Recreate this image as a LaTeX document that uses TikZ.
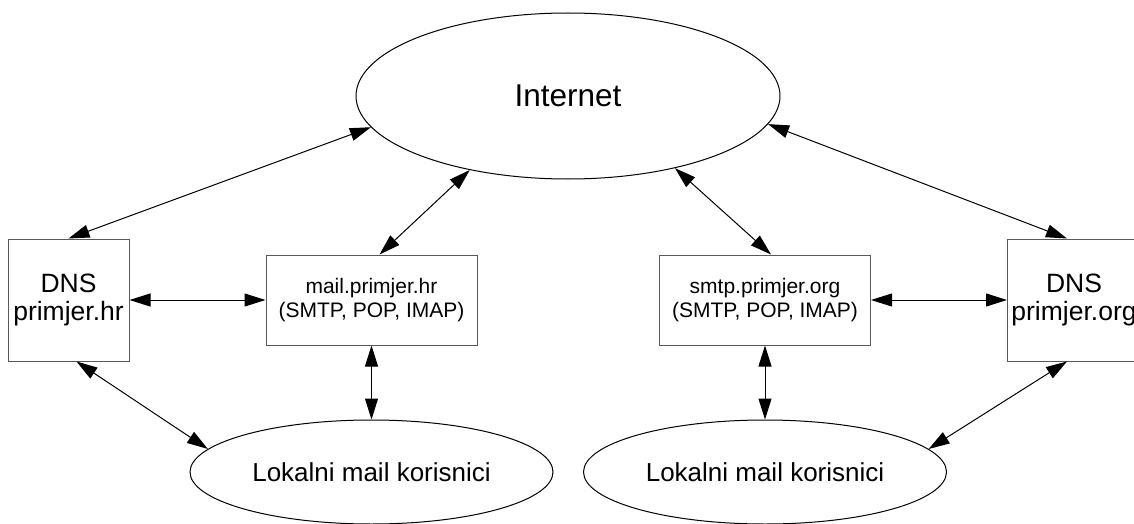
\documentclass[tikz,border=0pt]{standalone}
\usepackage{fontspec}
\setmainfont{Liberation Sans}
\usetikzlibrary{arrows.meta,positioning,shapes.geometric}

\begin{document}
\begin{tikzpicture}[
  x=1pt,
  y=-1pt,
  net/.style={
    draw,
    ellipse,
    line width=1pt,
    inner sep=0pt,
    minimum width=424pt,
    minimum height=166pt,
    font=\fontsize{31.5}{36}\selectfont
  },
  users/.style={
    draw,
    ellipse,
    line width=1pt,
    inner sep=0pt,
    minimum width=363pt,
    minimum height=104pt,
    font=\fontsize{26}{30}\selectfont
  },
  server/.style={
    draw=black!65,
    line width=1pt,
    inner sep=0pt,
    minimum width=211pt,
    minimum height=90pt,
    align=center,
    font=\fontsize{21}{24.3}\selectfont
  },
  dns/.style={
    draw=black!65,
    line width=1pt,
    inner sep=0pt,
    minimum height=122pt,
    align=center,
    font=\fontsize{26.5}{28}\selectfont
  },
  link/.style={{Triangle[length=21pt,width=13pt]}-{Triangle[length=21pt,width=13pt]},line width=1pt}
]
  \useasboundingbox (0,0) rectangle (1134,524);
  \clip (0,0) rectangle (1134,524);

  \node[net] (internet) at (568,96) {Internet};
  \node[server] (mailhr) at (371.5,300) {mail.primjer.hr\\(SMTP, POP, IMAP)};
  \node[server] (smtporg) at (765,300) {smtp.primjer.org\\(SMTP, POP, IMAP)};
  \node[dns,minimum width=121pt,left=136pt of mailhr] (dnshr) {DNS\\primjer.hr};
  \node[dns,minimum width=133pt,right=136pt of smtporg] (dnsorg) {DNS\\primjer.org};
  \node[users,below=74pt of mailhr] (lokalnihr) {Lokalni mail korisnici};
  \node[users,below=74pt of smtporg] (lokalniorg) {Lokalni mail korisnici};

  \draw[link] (internet.189) -- (dnshr.north);
  \draw[link] (internet.217) -- ([xshift=8pt]mailhr.north);
  \draw[link] (internet.326) -- ([xshift=6pt]smtporg.north);
  \draw[link] (internet.352) -- ([xshift=-7pt]dnsorg.north);
  \draw[link] (dnshr) -- (mailhr);
  \draw[link] (smtporg) -- (dnsorg);
  \draw[link] (mailhr) -- (lokalnihr);
  \draw[link] (smtporg) -- (lokalniorg);
  \draw[link] ([xshift=8pt]dnshr.south) -- (lokalnihr.172);
  \draw[link] ([xshift=-7pt]dnsorg.south) -- (lokalniorg.8);
\end{tikzpicture}
\end{document}
